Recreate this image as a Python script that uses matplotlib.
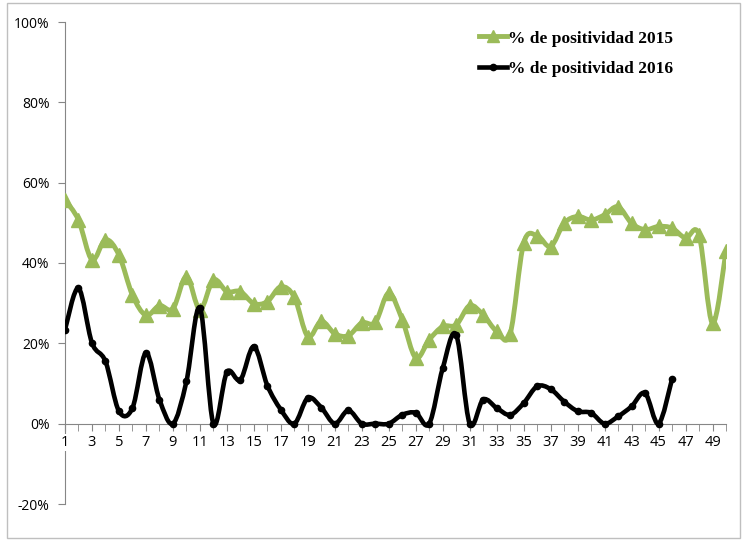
import numpy as np
import matplotlib.pyplot as plt
from matplotlib.path import Path
from matplotlib.patches import PathPatch, Rectangle
from matplotlib.lines import Line2D
from matplotlib.ticker import FixedLocator, FuncFormatter

# semanas epidemiologicas
weeks_2015 = list(range(1, 51))
pos_2015 = [55.7, 50.7, 40.8, 45.8, 42.0, 32.0, 27.0, 29.4, 28.6, 36.6,
            28.4, 35.8, 32.9, 32.9, 29.9, 30.4, 34.1, 31.5, 21.7, 25.5,
            22.4, 21.9, 25.1, 25.2, 32.5, 25.9, 16.4, 20.9, 24.2, 24.6,
            29.4, 27.1, 23.0, 22.4, 44.9, 46.8, 44.1, 49.9, 51.6, 50.7,
            52.0, 54.0, 49.9, 48.3, 49.1, 48.7, 46.2, 47.0, 25.0, 42.9]

weeks_2016 = list(range(1, 47))
pos_2016 = [23.4, 33.7, 20.1, 15.5, 3.1, 3.9, 17.6, 6.0, 0.0, 10.5,
            28.8, 0.0, 12.8, 10.9, 19.2, 9.5, 3.5, 0.0, 6.4, 4.0,
            0.0, 3.3, 0.0, 0.0, 0.0, 2.2, 2.7, 0.0, 13.8, 22.1,
            0.0, 6.0, 3.9, 2.2, 5.1, 9.3, 8.6, 5.5, 3.1, 2.7,
            0.0, 1.8, 4.3, 7.6, 0.0, 11.1]

label_2015 = "% de positividad 2015"
label_2016 = "% de positividad 2016"
green = "#9BBB59"


def smooth_path(x, y):
    # excel-like smoothed line: cubic bezier through every point
    p = np.column_stack([x, y]).astype(float)
    pad = np.vstack([p[0], p, p[-1]])
    verts = [p[0]]
    codes = [Path.MOVETO]
    for i in range(len(p) - 1):
        p0, p1, p2, p3 = pad[i], pad[i + 1], pad[i + 2], pad[i + 3]
        verts += [p1 + (p2 - p0) / 6, p2 - (p3 - p1) / 6, p2]
        codes += [Path.CURVE4] * 3
    return Path(verts, codes)


fig = plt.figure(figsize=(7.42, 5.40), dpi=100)
ax = fig.add_axes([65 / 742, 36 / 540, 661 / 742, 482 / 540])

ax.add_patch(PathPatch(smooth_path(weeks_2015, pos_2015), fill=False,
                       edgecolor=green, linewidth=3.5, capstyle="round",
                       joinstyle="round", zorder=2))
ax.plot(weeks_2015, pos_2015, linestyle="none", marker="^", markersize=10,
        color=green, zorder=3)

ax.add_patch(PathPatch(smooth_path(weeks_2016, pos_2016), fill=False,
                       edgecolor="black", linewidth=3.3, capstyle="round",
                       joinstyle="round", zorder=4))
ax.plot(weeks_2016, pos_2016, linestyle="none", marker="o", markersize=4.5,
        color="black", zorder=5)

ax.set_xlim(1, 50)
ax.set_ylim(-20, 100)

for s in ["top", "right"]:
    ax.spines[s].set_visible(False)
ax.spines["bottom"].set_position(("data", 0))
ax.spines["bottom"].set_color("#868686")
ax.spines["left"].set_color("#868686")

ax.set_yticks(range(-20, 101, 20))
ax.yaxis.set_major_formatter(FuncFormatter(lambda v, _: f"{v:.0f}%"))
ax.tick_params(axis="y", length=5, color="#868686", labelsize=10, pad=6)

ax.xaxis.set_major_locator(FixedLocator(list(range(1, 51, 2))))
ax.xaxis.set_minor_locator(FixedLocator(list(range(2, 51, 2))))
ax.tick_params(axis="x", which="both", length=5, color="#868686",
               labelsize=10.5, pad=3)

for lab in ax.get_xticklabels() + ax.get_yticklabels():
    lab.set_family("Open Sans")
# the "1" label covers the vertical axis, as in the original
ax.xaxis.set_zorder(3)
ax.get_xticklabels()[0].set_bbox(dict(facecolor="white", edgecolor="none", pad=0.5))

handles = [
    Line2D([], [], color=green, linewidth=3.5, marker="^", markersize=9),
    Line2D([], [], color="black", linewidth=3.3, marker="o", markersize=4.5),
]
ax.legend(handles, [label_2015, label_2016], loc="upper right",
          bbox_to_anchor=(0.943, 1.015), frameon=False, handlelength=1.6,
          handletextpad=0.05, labelspacing=0.85,
          prop={"family": "Liberation Serif", "weight": "bold", "size": 12.5})

# chart area border
fig.patches.append(Rectangle((7 / 742, 0.004), 733 / 742, 0.99,
                             transform=fig.transFigure, fill=False,
                             edgecolor="#BFBFBF", linewidth=1))

fig.savefig("out.png", dpi=100)
